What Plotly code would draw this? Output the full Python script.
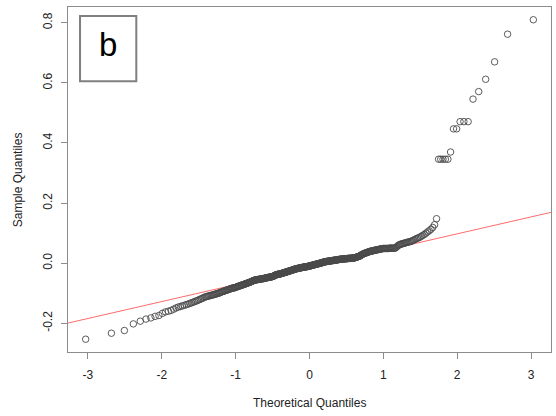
import plotly.graph_objects as go
from statistics import NormalDist

# Sorted sample values, plotted against normal quantiles (qqnorm)
sample = [
    -0.253, -0.233, -0.224, -0.202, -0.193, -0.186, -0.182, -0.177, -0.174, -0.167,
    -0.162, -0.160, -0.157, -0.153, -0.149,
    -0.146, -0.144, -0.142, -0.140, -0.138, -0.136, -0.134, -0.132, -0.130, -0.128,
    -0.126, -0.124, -0.122, -0.120, -0.118, -0.116, -0.114, -0.112,
    -0.111, -0.110, -0.109, -0.108, -0.107, -0.106, -0.105, -0.104, -0.103, -0.102,
    -0.101, -0.100, -0.099, -0.098, -0.096,
    -0.095, -0.094, -0.093, -0.092, -0.091, -0.090, -0.089, -0.088, -0.087, -0.086,
    -0.085, -0.084, -0.083, -0.083, -0.082, -0.082, -0.081, -0.080,
    -0.079, -0.078, -0.077, -0.076, -0.076, -0.075, -0.074, -0.073, -0.072, -0.072,
    -0.071, -0.070, -0.069, -0.068, -0.068, -0.067, -0.066, -0.065, -0.064, -0.064, -0.063,
    -0.062, -0.061, -0.060, -0.059, -0.058, -0.057, -0.057, -0.056, -0.056, -0.055,
    -0.055, -0.055, -0.054, -0.054, -0.054, -0.053, -0.053, -0.053, -0.052, -0.052,
    -0.052, -0.051, -0.051, -0.051, -0.050, -0.050,
    -0.049, -0.049, -0.048, -0.048, -0.048, -0.047, -0.047, -0.047, -0.046, -0.046,
    -0.046, -0.045, -0.045, -0.044, -0.044, -0.043, -0.042, -0.041, -0.040, -0.039,
    -0.039, -0.038, -0.038, -0.037, -0.037, -0.037, -0.036, -0.036, -0.036,
    -0.035, -0.035, -0.034, -0.034, -0.033, -0.033, -0.032, -0.032, -0.031, -0.031,
    -0.030, -0.030, -0.029, -0.029, -0.028, -0.028, -0.027, -0.027, -0.026, -0.026,
    -0.025, -0.025, -0.024, -0.024, -0.023, -0.023, -0.022, -0.022, -0.021, -0.021, -0.020,
    -0.019, -0.019, -0.019, -0.018, -0.018, -0.018, -0.017, -0.017, -0.017, -0.016,
    -0.016, -0.016, -0.015, -0.015, -0.015, -0.014, -0.014, -0.014, -0.013, -0.013,
    -0.013, -0.013, -0.012, -0.012, -0.012, -0.012, -0.011, -0.011, -0.011, -0.010,
    -0.010, -0.010,
    -0.009, -0.009, -0.008, -0.008, -0.008, -0.007, -0.007, -0.006, -0.006, -0.006,
    -0.005, -0.005, -0.004, -0.004, -0.004, -0.003, -0.003, -0.002, -0.002, -0.002,
    -0.001, -0.001, 0.000, 0.000, 0.000, 0.001, 0.001, 0.002, 0.002, 0.003, 0.003,
    0.004, 0.004,
    0.005, 0.005, 0.005, 0.005, 0.006, 0.006, 0.006, 0.006, 0.007, 0.007,
    0.007, 0.007, 0.008, 0.008, 0.008, 0.008, 0.009, 0.009, 0.009, 0.009,
    0.010, 0.010, 0.010, 0.010, 0.011, 0.011, 0.011, 0.011, 0.012, 0.012, 0.012,
    0.013, 0.013, 0.013, 0.013, 0.013, 0.014, 0.014, 0.014, 0.014, 0.014,
    0.014, 0.015, 0.015, 0.015, 0.015, 0.015, 0.015, 0.016, 0.016, 0.016,
    0.016, 0.016, 0.016, 0.017, 0.017, 0.017, 0.017, 0.017, 0.017,
    0.018, 0.018, 0.019, 0.019, 0.020, 0.021, 0.021, 0.022, 0.023, 0.023, 0.024, 0.025,
    0.027, 0.028, 0.029, 0.030, 0.031, 0.032, 0.033, 0.033, 0.034, 0.035, 0.036,
    0.036, 0.037, 0.038,
    0.039, 0.039, 0.040, 0.040, 0.041, 0.041, 0.042, 0.042, 0.043, 0.043, 0.044,
    0.044, 0.045, 0.045, 0.046, 0.046, 0.047, 0.047, 0.048, 0.048, 0.049,
    0.049, 0.049, 0.049, 0.049, 0.049, 0.049, 0.049, 0.050, 0.050, 0.050, 0.050,
    0.050, 0.050, 0.050, 0.050,
    0.052, 0.055, 0.058, 0.060,
    0.062, 0.063, 0.064, 0.065, 0.066, 0.067, 0.068, 0.069, 0.070, 0.071, 0.072,
    0.073, 0.075,
    0.077, 0.079, 0.081, 0.083, 0.085, 0.087, 0.090, 0.093, 0.096, 0.100, 0.104,
    0.108, 0.113, 0.119, 0.128, 0.148,
    0.346, 0.346, 0.346, 0.346, 0.346, 0.370, 0.447, 0.447, 0.471, 0.471, 0.471,
    0.546, 0.571, 0.612, 0.670, 0.762, 0.810,
]

x_ticks = [-3, -2, -1, 0, 1, 2, 3]
y_ticks = [-0.2, 0.0, 0.2, 0.4, 0.6, 0.8]
x_title = "Theoretical Quantiles"
y_title = "Sample Quantiles"
panel_label = "b"

# qqnorm: theoretical quantiles from plotting positions
n = len(sample)
nd = NormalDist()
theo = [nd.inv_cdf((i + 0.5) / n) for i in range(n)]

# qqline: line through the first and third quartiles
def quantile7(vals, p):
    s = sorted(vals)
    h = (len(s) - 1) * p
    lo = int(h)
    hi = min(lo + 1, len(s) - 1)
    return s[lo] + (h - lo) * (s[hi] - s[lo])

q1, q3 = quantile7(sample, 0.25), quantile7(sample, 0.75)
z1, z3 = nd.inv_cdf(0.25), nd.inv_cdf(0.75)
slope = (q3 - q1) / (z3 - z1)
intercept = q1 - slope * z1

x_range = [-3.27, 3.27]
y_range = [-0.2955, 0.8525]

FONT = "Liberation Sans, Arial, sans-serif"

fig = go.Figure()
fig.add_trace(go.Scatter(
    x=[x_range[0] - 0.5, x_range[1] + 0.5],
    y=[intercept + slope * (x_range[0] - 0.5), intercept + slope * (x_range[1] + 0.5)],
    mode="lines",
    line=dict(color="rgba(255,70,70,0.8)", width=1),
    hoverinfo="skip",
))
fig.add_trace(go.Scatter(
    x=theo, y=sample, mode="markers",
    marker=dict(symbol="circle-open", size=6.5, color="#4a4a4a",
                line=dict(width=0.9, color="#4a4a4a")),
))

axis_common = dict(
    showgrid=False, zeroline=False, showline=True, mirror=True,
    linecolor="#8c8c8c", linewidth=1,
    ticks="outside", ticklen=6, tickcolor="#8c8c8c", tickwidth=1,
    tickfont=dict(family=FONT, size=12, color="#222222"),
)

fig.update_layout(
    width=556, height=416,
    margin=dict(l=68, r=5, t=7, b=64),
    paper_bgcolor="white", plot_bgcolor="white",
    showlegend=False,
    xaxis=dict(range=x_range, tickvals=x_ticks,
               ticktext=[str(v) for v in x_ticks], ticklabelstandoff=6, **axis_common),
    yaxis=dict(range=y_range, tickvals=y_ticks,
               ticktext=[f"{v:.1f}" for v in y_ticks], tickangle=-90,
               ticklabelstandoff=4, **axis_common),
    shapes=[dict(type="rect", xref="paper", yref="paper",
                 x0=0.0249, x1=0.1414, y0=0.785, y1=0.974,
                 line=dict(color="#808080", width=2), fillcolor="white")],
    annotations=[
        dict(text=x_title, xref="paper", yref="paper", x=0.5, y=-0.148,
             xanchor="center", yanchor="middle", showarrow=False,
             font=dict(family=FONT, size=12, color="#222222")),
        dict(text=y_title, xref="paper", yref="paper", x=-0.104, y=0.5,
             xanchor="center", yanchor="middle", textangle=-90, showarrow=False,
             font=dict(family=FONT, size=12, color="#222222")),
        dict(text=panel_label, xref="paper", yref="paper", x=0.0832, y=0.89,
             xanchor="center", yanchor="middle", showarrow=False,
             font=dict(family=FONT, size=33, color="#000000")),
    ],
)

fig.write_html("out.html")
